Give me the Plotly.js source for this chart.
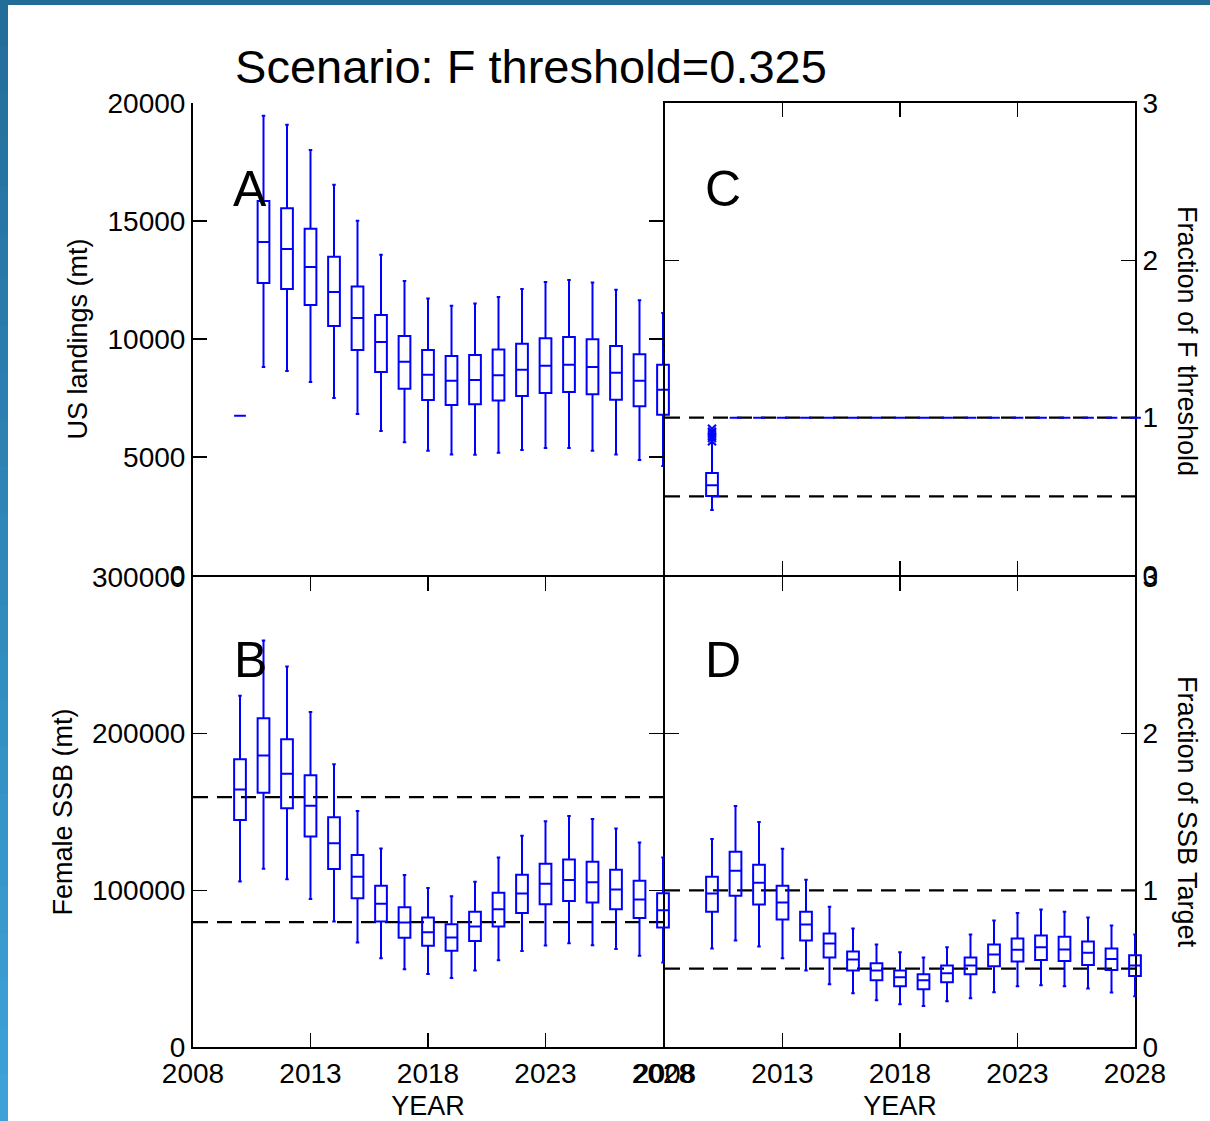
<!DOCTYPE html>
<html>
<head>
<meta charset="utf-8">
<script src="https://cdn.plot.ly/plotly-3.0.1.min.js"></script>
<style>
html,body{margin:0;padding:0;background:#ffffff;}
#chart{width:1210px;height:1121px;}
</style>
</head>
<body>
<div id="chart"></div>
<script>
// ---------------- DATA ----------------
const years = [2010,2011,2012,2013,2014,2015,2016,2017,2018,2019,2020,2021,2022,2023,2024,2025,2026,2027,2028];

// Panel A: US landings (mt)
const landLow  = [6750, 8810, 8640, 8180, 7500, 6820, 6100, 5620, 5270, 5110, 5100, 5180, 5300, 5380, 5380, 5270, 5110, 4870, 4620];
const landQ1   = [6750,12370,12120,11440,10550, 9530, 8600, 7890, 7420, 7200, 7230, 7390, 7590, 7710, 7750, 7660, 7430, 7150, 6790];
const landMed  = [6750,14110,13810,13050,11990,10890, 9870, 9040, 8480, 8230, 8260, 8460, 8700, 8870, 8910, 8810, 8570, 8230, 7850];
const landQ3   = [6750,15850,15540,14670,13490,12220,11020,10130, 9530, 9280, 9320, 9550, 9800,10030,10090, 9990, 9700, 9350, 8910];
const landHigh = [6750,19460,19080,18010,16540,15010,13570,12460,11720,11410,11500,11780,12120,12420,12500,12390,12090,11640,11100];

// Panel B: Female SSB (mt)
const ssbLow  = [105700,113800,107000, 94500, 80100, 66700, 56600, 49600, 46600, 44100, 48800, 55300, 61200, 64800, 66300, 65000, 62500, 58300, 54000];
const ssbQ1   = [144900,162300,152400,134300,113600, 94900, 80100, 69700, 64600, 61500, 67600, 76900, 85600, 91100, 93200, 92200, 87900, 82400, 76300];
const ssbMed  = [164400,186000,174400,154000,130100,108700, 91500, 79500, 73300, 69900, 76900, 87900, 97900,104200,106600,105100,100600, 94100, 87300];
const ssbQ3   = [183700,209800,196400,173500,146600,122500,103000, 89200, 82700, 78400, 86300, 98500,110000,117000,119700,118200,113100,106100, 98100];
const ssbHigh = [224200,259500,242800,213800,180500,150600,126700,109800,101500, 96200,105500,121000,134800,144100,147500,145600,139400,130500,121000];
const ssbRefLines = [159500, 79750];

// Panel C: Fraction of F threshold
const fLow  = [0.413,1,1,1,1,1,1,1,1,1,1,1,1,1,1,1,1,1,1];
const fQ1   = [0.502,1,1,1,1,1,1,1,1,1,1,1,1,1,1,1,1,1,1];
const fMed  = [0.570,1,1,1,1,1,1,1,1,1,1,1,1,1,1,1,1,1,1];
const fQ3   = [0.648,1,1,1,1,1,1,1,1,1,1,1,1,1,1,1,1,1,1];
const fHigh = [0.839,1,1,1,1,1,1,1,1,1,1,1,1,1,1,1,1,1,1];
const fOutYears  = [2010,2010,2010,2010,2010,2010];
const fOutValues = [0.85,0.87,0.88,0.90,0.91,0.93];
const fRefLines = [1, 0.5];

// Panel D: Fraction of SSB Target
const tLow  = [0.629,0.680,0.642,0.566,0.489,0.400,0.343,0.299,0.273,0.261,0.292,0.311,0.350,0.388,0.394,0.388,0.373,0.348,0.324];
const tQ1   = [0.864,0.966,0.909,0.814,0.680,0.572,0.489,0.426,0.388,0.369,0.413,0.464,0.515,0.545,0.555,0.549,0.523,0.491,0.453];
const tMed  = [0.979,1.125,1.049,0.922,0.782,0.661,0.559,0.489,0.445,0.426,0.470,0.521,0.591,0.621,0.636,0.623,0.602,0.561,0.521];
const tQ3   = [1.087,1.246,1.163,1.030,0.864,0.725,0.610,0.534,0.489,0.464,0.521,0.572,0.655,0.693,0.712,0.704,0.674,0.629,0.585];
const tHigh = [1.328,1.538,1.436,1.265,1.068,0.896,0.756,0.655,0.604,0.572,0.636,0.718,0.807,0.856,0.877,0.864,0.826,0.775,0.718];
const tRefLines = [1, 0.5];

// Axis ticks
const xRange = [2008, 2028];
const xTickVals = [2008, 2013, 2018, 2023, 2028];
const xTickText = ['2008','2013','2018','2023','2028'];
const landTickVals = [0, 5000, 10000, 15000, 20000];
const landTickText = ['0','5000','10000','15000','20000'];
const ssbTickVals = [0, 100000, 200000, 300000];
const ssbTickText = ['0','100000','200000','300000'];
const fracTickVals = [0, 1, 2, 3];
const fracTickText = ['0','1','2','3'];

const titleText = 'Scenario: F threshold=0.325';

// ---------------- LAYOUT GEOMETRY ----------------
const W = 1210, H = 1121;
const LW = 2;                       // axis line width
const PX_L = 193, PX_M = 663, PX_R = 1135;
const PY_T = 103, PY_M = 575, PY_B = 1047;
const EXT = 22; // px extension so boxes at the edge are not clipped
const FONT = '"Liberation Sans", Arial, Helvetica, sans-serif';
const BLUE = '#0000ff';

const px = v => v / W;
const py = v => 1 - v / H;

// neighbouring panels shifted by the line width so their shared border lines coincide
const domLeft  = [px(PX_L), px(PX_M)];
const domRight = [px(PX_M + LW), px(PX_R)];
const domTop   = [py(PY_M), py(PY_T)];
const domBot   = [py(PY_B), py(PY_M + LW)];

const pyrL = (PX_M - PX_L) / (xRange[1] - xRange[0]);
const pyrR = (PX_R - PX_M - LW) / (xRange[1] - xRange[0]);

const tickFont = {family: FONT, size: 28, color: '#000'};

function xAxis(domain, anchor, showLabels, title) {
  const ax = {
    domain: domain, range: xRange, anchor: anchor,
    tickmode: 'array', tickvals: xTickVals, ticktext: xTickText,
    showticklabels: showLabels, ticks: 'inside', ticklen: 14, tickwidth: 1.5, tickcolor: '#000',
    showline: true, linecolor: '#000', linewidth: LW, mirror: 'ticks',
    showgrid: false, zeroline: false, tickfont: tickFont, ticklabelstandoff: 0,
    fixedrange: true
  };
  if (title) ax.title = {text: title, font: {family: FONT, size: 27, color: '#000'}, standoff: 16};
  return ax;
}
function yAxis(domain, anchor, side, range, vals, text, title) {
  const ax = {
    domain: domain, range: range, anchor: anchor, side: side,
    tickmode: 'array', tickvals: vals, ticktext: text,
    ticks: 'inside', ticklen: 14, tickwidth: 1.5, tickcolor: '#000',
    showline: true, linecolor: '#000', linewidth: LW, mirror: 'ticks',
    showgrid: false, zeroline: false, tickfont: tickFont, ticklabelstandoff: 0,
    fixedrange: true
  };
  if (title) ax.title = {text: title, font: {family: FONT, size: 27, color: '#000'}, standoff: 12};
  return ax;
}
function extAxis(dom, pyr, anchor) {
  return {
    domain: [px(dom[0] * W - EXT), px(dom[1] * W + EXT)],
    range: [xRange[0] - EXT / pyr, xRange[1] + EXT / pyr],
    anchor: anchor, visible: false, showgrid: false, zeroline: false, fixedrange: true
  };
}

function boxTrace(xa, ya, low, q1, med, q3, high) {
  return {
    type: 'box', orientation: 'v', xaxis: xa, yaxis: ya,
    x: years, lowerfence: low, q1: q1, median: med, q3: q3, upperfence: high,
    width: 0.5, whiskerwidth: 0.3, boxpoints: false,
    line: {color: BLUE, width: 2}, fillcolor: 'rgba(0,0,0,0)',
    hoverinfo: 'skip', showlegend: false
  };
}
function refLine(xa, ya, v) {
  return {
    type: 'scatter', mode: 'lines', xaxis: xa, yaxis: ya,
    x: xRange, y: [v, v],
    line: {color: '#000', width: 2.3, dash: '15px,9px'},
    hoverinfo: 'skip', showlegend: false
  };
}

const traces = [];
ssbRefLines.forEach(v => traces.push(refLine('x2', 'y2', v)));
fRefLines.forEach(v => traces.push(refLine('x3', 'y3', v)));
tRefLines.forEach(v => traces.push(refLine('x4', 'y4', v)));

traces.push(boxTrace('x5', 'y',  landLow, landQ1, landMed, landQ3, landHigh));
traces.push(boxTrace('x5', 'y2', ssbLow, ssbQ1, ssbMed, ssbQ3, ssbHigh));
traces.push(boxTrace('x6', 'y3', fLow, fQ1, fMed, fQ3, fHigh));
traces.push(boxTrace('x6', 'y4', tLow, tQ1, tMed, tQ3, tHigh));
traces.push({
  type: 'scatter', mode: 'markers', xaxis: 'x6', yaxis: 'y3',
  x: fOutYears, y: fOutValues,
  marker: {symbol: 'x-thin', size: 8, color: BLUE, line: {color: BLUE, width: 2}},
  hoverinfo: 'skip', showlegend: false, cliponaxis: false
});

// decorative frame (slide border)
const shapes = [];
shapes.push({type: 'rect', xref: 'paper', yref: 'paper', x0: 0, x1: 1, y0: py(5), y1: 1,
  fillcolor: '#226c98', line: {width: 0}, layer: 'above'});
const NSEG = 24;
for (let i = 0; i < NSEG; i++) {
  const t = i / (NSEG - 1);
  const r = Math.round(0x23 + t * (0x3c - 0x23));
  const g = Math.round(0x6d + t * (0xa2 - 0x6d));
  const b = Math.round(0x9a + t * (0xd8 - 0x9a));
  shapes.push({type: 'rect', xref: 'paper', yref: 'paper',
    x0: 0, x1: px(8), y0: 1 - (i + 1) / NSEG, y1: 1 - i / NSEG + 0.001,
    fillcolor: `rgb(${r},${g},${b})`, line: {width: 0}, layer: 'above'});
}

function letter(txt, xpx, ypx) {
  return {text: txt, xref: 'paper', yref: 'paper', x: px(xpx), y: py(ypx),
    xanchor: 'center', yanchor: 'middle', showarrow: false,
    font: {family: FONT, size: 50, color: '#000'}};
}
function sideTitle(txt, xpx, ypx) {
  return {text: txt, xref: 'paper', yref: 'paper', x: px(xpx), y: py(ypx),
    xanchor: 'center', yanchor: 'middle', showarrow: false, textangle: 90,
    font: {family: FONT, size: 27, color: '#000'}};
}

const layout = {
  width: W, height: H,
  margin: {l: 0, r: 0, t: 0, b: 0, pad: 0},
  paper_bgcolor: '#ffffff', plot_bgcolor: 'rgba(0,0,0,0)',
  showlegend: false, boxmode: 'overlay',
  font: {family: FONT, color: '#000'},
  title: {text: titleText, x: px(531), xanchor: 'center', y: py(67), yanchor: 'middle',
    font: {family: FONT, size: 47, color: '#000'}},
  xaxis:  xAxis(domLeft,  'y',  false),
  xaxis2: xAxis(domLeft,  'y2', true, 'YEAR'),
  xaxis3: xAxis(domRight, 'y3', false),
  xaxis4: xAxis(domRight, 'y4', true, 'YEAR'),
  yaxis:  yAxis(domTop, 'x',  'left',  [0, 20000],  landTickVals, landTickText, 'US landings (mt)'),
  yaxis2: yAxis(domBot, 'x2', 'left',  [0, 300000], ssbTickVals,  ssbTickText,  'Female SSB (mt)'),
  yaxis3: yAxis(domTop, 'x3', 'right', [0, 3], fracTickVals, fracTickText),
  yaxis4: yAxis(domBot, 'x4', 'right', [0, 3], fracTickVals, fracTickText),
  xaxis5: extAxis(domLeft, pyrL, 'y'),
  xaxis6: extAxis(domRight, pyrR, 'y3'),
  shapes: shapes,
  annotations: [
    letter('A', 250, 189), letter('B', 250, 660),
    letter('C', 723, 189), letter('D', 723, 660),
    sideTitle('Fraction of F threshold', 1187, 341),
    sideTitle('Fraction of SSB Target', 1187, 812)
  ]
};

Plotly.newPlot('chart', traces, layout, {staticPlot: true, displayModeBar: false});
</script>
</body>
</html>
